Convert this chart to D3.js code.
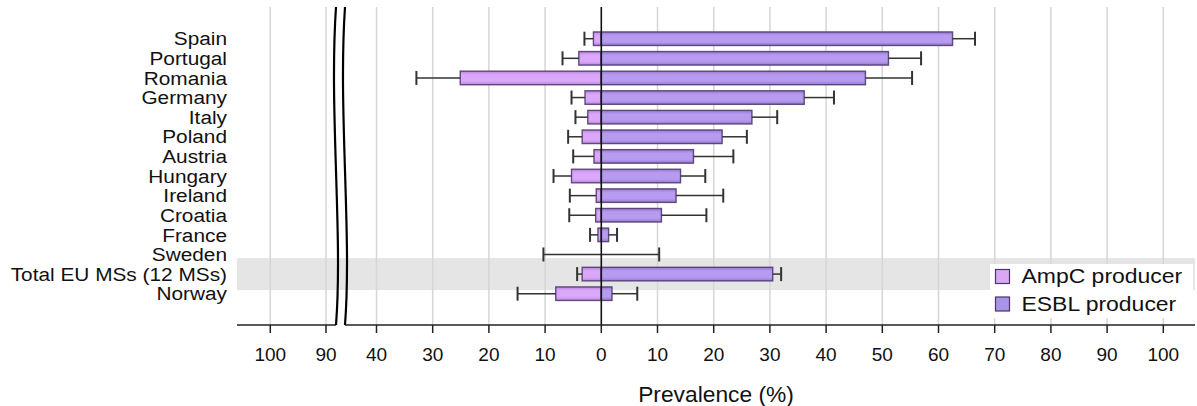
<!DOCTYPE html>
<html>
<head>
<meta charset="utf-8">
<script src="https://cdn.jsdelivr.net/npm/d3@7"></script>
<style>
  html, body { margin: 0; padding: 0; background: #fff; }
  svg { display: block; font-family: "Liberation Sans", Arial, sans-serif; }
</style>
</head>
<body>
<svg id="chart" width="1197" height="406"></svg>
<script>
// ---------------- DATA ----------------
const categories = ["Spain", "Portugal", "Romania", "Germany", "Italy", "Poland", "Austria",
  "Hungary", "Ireland", "Croatia", "France", "Sweden", "Total EU MSs (12 MSs)", "Norway"];
const ampcValues = [1.4, 4.0, 25.1, 2.9, 2.4, 3.4, 1.3, 5.3, 0.9, 1.0, 0.6, 0, 3.4, 8.1];
const ampcUpper  = [3.0, 6.9, 32.9, 5.3, 4.6, 5.9, 5.0, 8.5, 5.6, 5.7, 2.0, 10.3, 4.3, 14.9];
const esblValues = [62.5, 51.1, 47.0, 36.1, 26.8, 21.5, 16.4, 14.1, 13.3, 10.7, 1.3, 0, 30.5, 1.9];
const esblUpper  = [66.5, 56.9, 55.3, 41.4, 31.3, 25.9, 23.5, 18.5, 21.7, 18.7, 2.8, 10.3, 32.0, 6.4];
const highlighted = "Total EU MSs (12 MSs)";
const farLeftTicks = [100, 90];          // beyond the axis break (AmpC side)
const leftTicks = [40, 30, 20, 10];      // AmpC side, before the break
const rightTicks = [0, 10, 20, 30, 40, 50, 60, 70, 80, 90, 100];
const seriesNames = ["AmpC producer", "ESBL producer"];
const xTitle = "Prevalence (%)";

// ---------------- LAYOUT ----------------
const svg = d3.select("#chart");
const plotLeft = 237, plotRight = 1195, plotTop = 7, plotBottom = 325;
const breakX = 336, breakGap = 9;

const x = d3.scaleLinear().domain([0, 100]).range([601.3, 1163.3]);
const xFar = d3.scaleLinear().domain([90, 100]).range([326, 270.3]);
const y = d3.scaleBand().domain(categories).range([28.9, 303.5]).paddingInner(0.31).paddingOuter(0.155);

const defs = svg.append("defs");
function grad(id, edge, mid) {
  const g = defs.append("linearGradient").attr("id", id).attr("x1", 0).attr("y1", 0).attr("x2", 0).attr("y2", 1);
  g.append("stop").attr("offset", "0%").attr("stop-color", edge);
  g.append("stop").attr("offset", "28%").attr("stop-color", mid);
  g.append("stop").attr("offset", "72%").attr("stop-color", mid);
  g.append("stop").attr("offset", "100%").attr("stop-color", edge);
}
grad("gAmpc", "#bd88dc", "#dba7fa");
grad("gEsbl", "#967bd2", "#b79bf0");

// highlight band
const hc = y(highlighted) + y.bandwidth() / 2;
svg.append("rect").attr("x", plotLeft).attr("y", hc - 16).attr("width", plotRight - plotLeft).attr("height", 32)
  .attr("fill", "#e5e5e5");

// gridlines
const grid = svg.append("g").attr("stroke", "#d6d6d6").attr("stroke-width", 1.5);
farLeftTicks.forEach(t => grid.append("line").attr("x1", xFar(t)).attr("x2", xFar(t)).attr("y1", plotTop).attr("y2", plotBottom));
leftTicks.forEach(t => grid.append("line").attr("x1", x(-t)).attr("x2", x(-t)).attr("y1", plotTop).attr("y2", plotBottom));
rightTicks.filter(t => t !== 0).forEach(t => grid.append("line").attr("x1", x(t)).attr("x2", x(t)).attr("y1", plotTop).attr("y2", plotBottom));

// bars
const rows = categories.map((c, i) => ({ c, a: ampcValues[i], au: ampcUpper[i], e: esblValues[i], eu: esblUpper[i] }));
const barStroke = "#4a3468";
svg.append("g").selectAll("rect").data(rows.filter(d => d.a > 0)).join("rect")
  .attr("x", d => x(-d.a)).attr("width", d => x(0) - x(-d.a))
  .attr("y", d => y(d.c)).attr("height", y.bandwidth())
  .attr("fill", "url(#gAmpc)").attr("stroke", barStroke).attr("stroke-opacity", 0.85).attr("stroke-width", 1.4);
svg.append("g").selectAll("rect").data(rows.filter(d => d.e > 0)).join("rect")
  .attr("x", x(0)).attr("width", d => x(d.e) - x(0))
  .attr("y", d => y(d.c)).attr("height", y.bandwidth())
  .attr("fill", "url(#gEsbl)").attr("stroke", barStroke).attr("stroke-opacity", 0.85).attr("stroke-width", 1.4);

// error bars
const err = svg.append("g").attr("stroke", "#333").attr("fill", "none");
rows.forEach(d => {
  const cy = y(d.c) + y.bandwidth() / 2;
  const capH = 7;
  [[x(-d.a), x(-d.au)], [x(d.e), x(d.eu)]].forEach(([x0, x1]) => {
    err.append("line").attr("x1", x0).attr("x2", x1).attr("y1", cy).attr("y2", cy).attr("stroke-width", 1.5);
    err.append("line").attr("x1", x1).attr("x2", x1).attr("y1", cy - capH).attr("y2", cy + capH).attr("stroke-width", 2);
  });
});

// zero line
svg.append("line").attr("x1", x(0)).attr("x2", x(0)).attr("y1", plotTop).attr("y2", plotBottom)
  .attr("stroke", "#111").attr("stroke-width", 1.6);

// x axis line with break
const ax = svg.append("g").attr("stroke", "#222").attr("stroke-width", 1.6).attr("fill", "none");
ax.append("line").attr("x1", plotLeft).attr("x2", breakX).attr("y1", plotBottom).attr("y2", plotBottom);
ax.append("line").attr("x1", breakX + breakGap).attr("x2", plotRight).attr("y1", plotBottom).attr("y2", plotBottom);
const brk = svg.append("g").attr("stroke", "#000").attr("stroke-width", 2.2).attr("fill", "none");
[0, breakGap].forEach(o => {
  const p = d3.path();
  p.moveTo(breakX + o, plotTop);
  p.bezierCurveTo(breakX - 7 + o, 110, breakX + 7 + o, 235, breakX + o, plotBottom);
  brk.append("path").attr("d", p.toString());
});

// ticks + labels
const tickData = [
  ...farLeftTicks.map(t => ({ pos: xFar(t), label: String(t) })),
  ...leftTicks.map(t => ({ pos: x(-t), label: String(t) })),
  ...rightTicks.map(t => ({ pos: x(t), label: String(t) }))
];
const tk = svg.append("g");
tk.selectAll("line").data(tickData).join("line")
  .attr("x1", d => d.pos).attr("x2", d => d.pos).attr("y1", plotBottom).attr("y2", plotBottom + 8)
  .attr("stroke", "#222").attr("stroke-width", 1.5);
tk.selectAll("text").data(tickData).join("text")
  .attr("x", d => d.pos).attr("y", 360.5).attr("text-anchor", "middle")
  .attr("font-size", 19).attr("fill", "#111").text(d => d.label);

// category labels (slightly wide glyphs as in the reference)
svg.append("g").selectAll("text").data(categories).join("text")
  .attr("transform", d => `translate(227,${y(d) + y.bandwidth() / 2}) scale(1.12,1)`)
  .attr("dy", "0.36em")
  .attr("text-anchor", "end").attr("font-size", 18.6).attr("fill", "#111").text(d => d);

// axis title
svg.append("text").attr("transform", `translate(${(plotLeft + plotRight) / 2},401.5) scale(1.06,1)`)
  .attr("text-anchor", "middle")
  .attr("font-size", 21.5).attr("fill", "#111").text(xTitle);

// legend
const lg = svg.append("g");
lg.append("rect").attr("x", 990).attr("y", 264).attr("width", 203).attr("height", 54).attr("fill", "#fff");
const swFill = ["#d9a8f5", "#a995e8"];
seriesNames.forEach((s, i) => {
  const yy = 269.5 + i * 27.5;
  lg.append("rect").attr("x", 995.5).attr("y", yy).attr("width", 14).attr("height", 14)
    .attr("fill", swFill[i]).attr("stroke", "#4a3468").attr("stroke-width", 1.2);
  lg.append("text").attr("transform", `translate(1021.5,${yy + 13.5}) scale(1.12,1)`)
    .attr("font-size", 20.5).attr("fill", "#111").text(s);
});
</script>
</body>
</html>
